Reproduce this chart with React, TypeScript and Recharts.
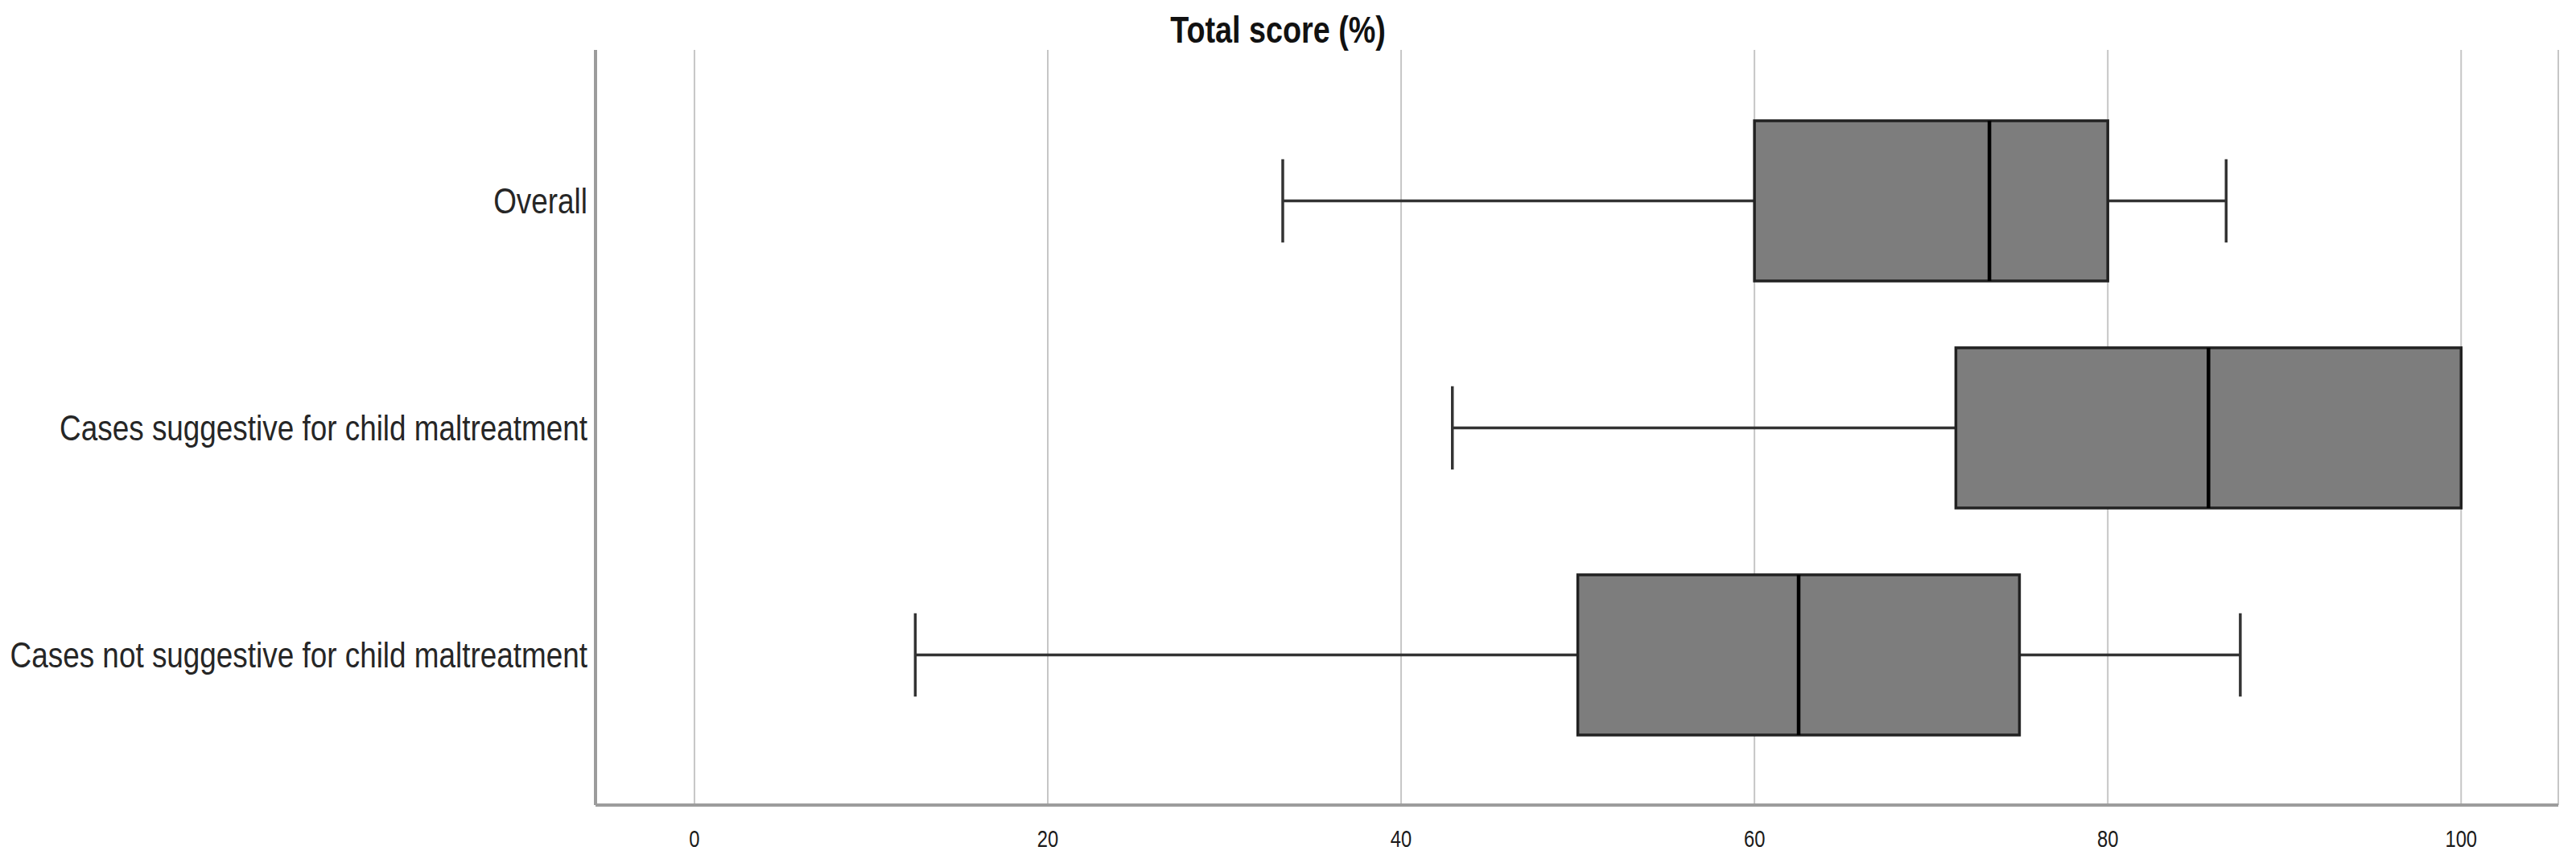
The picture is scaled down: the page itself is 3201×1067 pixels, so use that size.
import React from 'react';
import { ComposedChart, Bar, XAxis, YAxis, CartesianGrid } from 'recharts';

// categories, top to bottom
const groups = [
  'Overall',
  'Cases suggestive for child maltreatment',
  'Cases not suggestive for child maltreatment',
];

// five-number summaries
const mins = [33.3, 42.9, 12.5];
const q1s = [60, 71.4, 50];
const medians = [73.3, 85.7, 62.5];
const q3s = [80, 100, 75];
const maxs = [86.7, 100, 87.5];

const xTicks = [0, 20, 40, 60, 80, 100];

const data = groups.map((name, i) => ({
  name,
  min: mins[i],
  q1: q1s[i],
  median: medians[i],
  q3: q3s[i],
  max: maxs[i],
  range: [mins[i], maxs[i]],
}));

const FONT = '"Liberation Sans", Arial, sans-serif';
// the reference text is condensed (Arial Narrow look)
const SQUEEZE = 0.82;

function YTick(props: any) {
  const { x, y, payload } = props;
  return (
    <g transform={`translate(${x},${y}) scale(${SQUEEZE},1)`}>
      <text textAnchor="end" dy="0.36em" fontSize={45} fill="#262626" fontFamily={FONT}>
        {payload.value}
      </text>
    </g>
  );
}

function XTick(props: any) {
  const { x, y, payload } = props;
  return (
    <g transform={`translate(${x},${y}) scale(${SQUEEZE},1)`}>
      <text textAnchor="middle" dy="0.71em" fontSize={29} fill="#1a1a1a" fontFamily={FONT}>
        {payload.value}
      </text>
    </g>
  );
}

function BoxShape(props: any) {
  const { x, y, width, height, payload } = props;
  if (!payload) return null;
  const { min, q1, median, q3, max } = payload;
  // map values through the bar's own extent (scale(min) .. scale(max))
  const px = (v: number) => x + ((v - min) / (max - min)) * width;
  const cy = y + height / 2;
  const cap = height * 0.26;
  const line = '#333';

  return (
    <g>
      <line x1={px(min)} x2={px(q1)} y1={cy} y2={cy} stroke={line} strokeWidth={3.5} />
      <line x1={px(q3)} x2={px(max)} y1={cy} y2={cy} stroke={line} strokeWidth={3.5} />
      <line x1={px(min)} x2={px(min)} y1={cy - cap} y2={cy + cap} stroke={line} strokeWidth={3.5} />
      <line x1={px(max)} x2={px(max)} y1={cy - cap} y2={cy + cap} stroke={line} strokeWidth={3.5} />
      <rect
        x={px(q1)}
        y={y}
        width={px(q3) - px(q1)}
        height={height}
        fill="#7d7d7d"
        stroke="#222"
        strokeWidth={3.5}
      />
      <line x1={px(median)} x2={px(median)} y1={y} y2={y + height} stroke="#000" strokeWidth={4.5} />
    </g>
  );
}

export default function App() {
  return (
    <div
      style={{
        position: 'absolute',
        left: 0,
        top: 0,
        width: 3201,
        height: 1067,
        background: '#fff',
        fontFamily: FONT,
      }}
    >
      <div
        style={{
          position: 'absolute',
          left: 1288,
          width: 600,
          top: 10,
          textAlign: 'center',
          fontWeight: 'bold',
          fontSize: 46,
          lineHeight: '54px',
          color: '#111',
          transform: `scaleX(${SQUEEZE})`,
        }}
      >
        Total score (%)
      </div>
      <ComposedChart
        width={3201}
        height={1067}
        layout="vertical"
        data={data}
        margin={{ top: 62, right: 22, bottom: 0, left: 0 }}
      >
        <CartesianGrid vertical horizontal={false} stroke="#c6c6c6" strokeWidth={2} />
        <XAxis
          type="number"
          domain={[-5.6, 105.5]}
          ticks={xTicks}
          height={67}
          tickSize={0}
          tickMargin={31}
          axisLine={{ stroke: '#9c9c9c', strokeWidth: 4 }}
          tick={<XTick />}
        />
        <YAxis
          type="category"
          dataKey="name"
          width={740}
          padding={{ top: 46, bottom: 46 }}
          tickSize={0}
          tickMargin={10}
          axisLine={{ stroke: '#9c9c9c', strokeWidth: 4 }}
          tick={<YTick />}
        />
        <Bar dataKey="range" barSize={199} shape={<BoxShape />} isAnimationActive={false} />
      </ComposedChart>
    </div>
  );
}
